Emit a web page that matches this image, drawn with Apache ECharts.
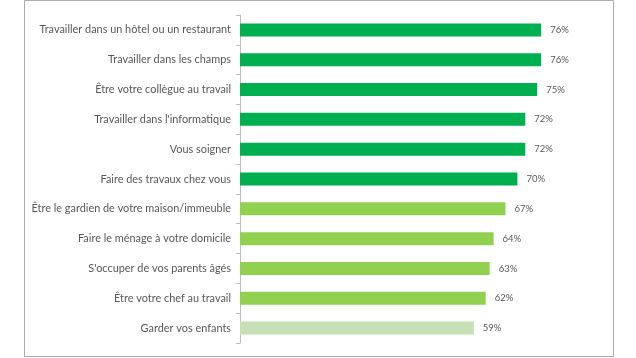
<!DOCTYPE html>
<html>
<head>
<meta charset="utf-8">
<script src="https://cdn.jsdelivr.net/npm/echarts@6/dist/echarts.min.js"></script>
<style>html,body{margin:0;padding:0;background:#fff}#c{width:636px;height:358px}</style>
</head>
<body>
<div id="c"></div>
<script>
const categories = [
  "Travailler dans un hôtel ou un restaurant",
  "Travailler dans les champs",
  "Être votre collègue au travail",
  "Travailler dans l'informatique",
  "Vous soigner",
  "Faire des travaux chez vous",
  "Être le gardien de votre maison/immeuble",
  "Faire le ménage à votre domicile",
  "S'occuper de vos parents âgés",
  "Être votre chef au travail",
  "Garder vos enfants"
];
const values = [76, 76, 75, 72, 72, 70, 67, 64, 63, 62, 59];
const barColors = ["#00B050","#00B050","#00B050","#00B050","#00B050","#00B050","#92D050","#92D050","#92D050","#92D050","#C5E0B4"];

const chart = echarts.init(document.getElementById('c'), null, {renderer: 'canvas'});
chart.setOption({
  animation: false,
  backgroundColor: '#fff',
  graphic: [{
    type: 'rect', shape: {x: 24.5, y: 0.5, width: 589, height: 356},
    style: {fill: 'none', stroke: '#ADADAD', lineWidth: 1}, silent: true
  }],
  grid: {left: 240, top: 15, height: 328, width: 317},
  xAxis: {type: 'value', min: 0, max: 80, show: false},
  yAxis: {
    type: 'category', data: categories, inverse: true,
    axisLine: {show: true, lineStyle: {color: '#BFBFBF', width: 1}},
    axisTick: {show: true, length: 4, lineStyle: {color: '#BFBFBF'}},
    axisLabel: {color: '#595959', fontFamily: 'Lato', fontSize: 10.9, margin: 9}
  },
  series: [{
    type: 'bar', barWidth: 13,
    data: values.map((v, i) => ({value: v, itemStyle: {color: barColors[i]}})),
    label: {show: true, position: 'right', distance: 9, formatter: '{c}%', color: '#595959',
            fontFamily: 'Lato', fontSize: 9.5}
  }]
});
</script>
</body>
</html>
